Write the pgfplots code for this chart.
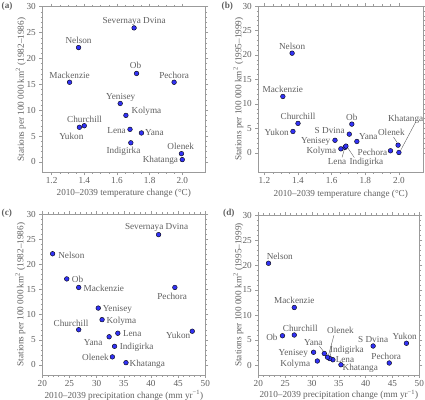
\documentclass[border=0pt]{standalone}
\usepackage{fontspec}
\setmainfont{Liberation Serif}
\usepackage{pgfplots}
\pgfplotsset{compat=1.18}
\definecolor{dotblue}{RGB}{50,50,245}
\definecolor{txtgray}{RGB}{95,95,95}
\definecolor{framegray}{RGB}{155,155,155}
\newcommand{\fs}{\fontsize{9.2bp}{11bp}\selectfont}
\tikzset{lab/.style={font=\fs, text=txtgray, inner sep=0pt},
  leader/.style={draw=txtgray, line width=0.4bp}}
% centre offset label
\newcommand{\lc}[5]{\node[lab,anchor=base,xshift={#3*1bp},yshift={(#4-3)*1bp}] at (axis cs:#1,#2) {#5};}
% right label (gap)
\newcommand{\lr}[5]{\node[lab,anchor=base west,xshift={#3*1bp},yshift={(#4-3)*1bp}] at (axis cs:#1,#2) {#5};}
% left label (gap)
\newcommand{\lL}[5]{\node[lab,anchor=base east,xshift={-#3*1bp},yshift={(#4-3)*1bp}] at (axis cs:#1,#2) {#5};}
\pgfplotsset{panel/.style={
  scale only axis, anchor=south west,
  axis line style={framegray, line width=0.5bp},
  every tick/.style={framegray, line width=0.4bp},
  tick align=outside,
  major tick length=3bp, minor tick length=1.7bp,
  ticklabel style={font=\fs, text=txtgray},
  xticklabel style={yshift=1.2bp},
  label style={font=\fs, text=txtgray},
  /pgf/number format/assume math mode=true,
  ytick={0,5,10,15,20,25,30}, minor y tick num=4,
  clip=false,
},
temp/.style={xtick={1.2,1.4,1.6,1.8,2.0}, xticklabels={1.2,1.4,1.6,1.8,2.0}, minor x tick num=3,
  xlabel={2010–2039 temperature change (°C)}},
prec/.style={xmin=20, xmax=50, xtick={20,25,30,35,40,45,50}, minor x tick num=4,
  xlabel={2010–2039 precipitation change (mm yr\textsuperscript{\char"2212 1})}},
dots/.style={only marks, mark=*, mark size=2.35bp, mark options={draw=none, fill=dotblue}}
}
\begin{document}
\begin{tikzpicture}
\useasboundingbox (0,0) rectangle (425bp,400bp);
% ---------------- (a)
\begin{axis}[panel, temp, at={(42.3bp,227.7bp)}, width=163bp, height=165.6bp,
  xmin=1.143, xmax=2.141, ymin=-2, ymax=30,
  ylabel={Stations per 100 000 km\textsuperscript{2} (1982–1986)},
  xlabel style={at={(axis description cs:0.5,-0.126)}, anchor=center},
  ylabel style={at={(axis description cs:-0.132,0.5)}, anchor=center}]
\addplot[dots] coordinates {
 (1.365,22.1) (1.31,15.4) (1.37,6.7) (1.40,7.0) (1.62,11.3) (1.655,9.0) (1.68,6.3)
 (1.685,3.7) (1.705,25.9) (1.72,17.1) (1.75,5.6) (1.95,15.4) (1.995,1.6) (2.0,0.45)};
\lc{1.705}{25.9}{0}{7.7}{Severnaya Dvina}
\lc{1.365}{22.1}{0}{6.7}{Nelson}
\lc{1.72}{17.1}{-1}{7.5}{Ob}
\lc{1.31}{15.4}{0}{6.7}{Mackenzie}
\lc{1.95}{15.4}{0}{6.7}{Pechora}
\lc{1.62}{11.3}{0.5}{7.3}{Yenisey}
\lr{1.655}{9.0}{5.5}{4.7}{Kolyma}
\lc{1.40}{7.0}{0.3}{6.7}{Churchill}
\lc{1.37}{6.7}{-8}{-9}{Yukon}
\lL{1.68}{6.3}{4}{-0.7}{Lena}
\lr{1.75}{5.6}{3.5}{0.7}{Yana}
\lc{1.685}{3.7}{-7.3}{-7.7}{Indigirka}
\lc{1.995}{1.6}{-0.7}{6.7}{Olenek}
\lL{2.0}{0.45}{4}{-0.3}{Khatanga}
\end{axis}
% ---------------- (b)
\begin{axis}[panel, temp, at={(258.3bp,227.7bp)}, width=165bp, height=166.3bp,
  xmin=1.164, xmax=2.145, ymin=-4, ymax=30,
  ylabel={Stations per 100 000 km\textsuperscript{2} (1995–1999)},
  xlabel style={at={(axis description cs:0.5,-0.132)}, anchor=center},
  ylabel style={at={(axis description cs:-0.121,0.5)}, anchor=center}]
\addplot[dots] coordinates {
 (1.365,20.35) (1.31,11.5) (1.37,4.35) (1.40,6.0) (1.62,2.55) (1.655,0.8) (1.68,1.1)
 (1.685,1.35) (1.705,3.8) (1.72,5.85) (1.75,2.3) (1.95,0.4) (1.995,1.55) (2.0,0.05)};
\lc{1.365}{20.35}{0}{6.3}{Nelson}
\lc{1.31}{11.5}{0}{6.7}{Mackenzie}
\lc{1.40}{6.0}{0}{6.7}{Churchill}
\lL{1.37}{4.35}{4}{-0.7}{Yukon}
\lc{1.72}{5.85}{0}{6.7}{Ob}
\lL{1.705}{3.8}{4.5}{3.8}{S Dvina}
\lL{1.62}{2.55}{4.5}{0}{Yenisey}
\lr{1.75}{2.3}{2}{5}{Yana}
\lL{1.655}{0.8}{4.5}{-2}{Kolyma}
\lL{1.95}{0.4}{3}{-1.5}{Pechora}
\lc{1.632}{-1.85}{0}{0}{Lena}
\lc{1.807}{-1.85}{0}{0}{Indigirka}
\lc{1.955}{4.1}{0}{0}{Olenek}
\lc{2.04}{7.05}{0}{0}{Khatanga}
\draw[leader] (axis cs:1.662,-0.95) -- (axis cs:1.676,0.75);
\draw[leader] (axis cs:1.735,-1.0) -- (axis cs:1.697,0.95);
\draw[leader] (axis cs:1.968,3.2) -- (axis cs:1.988,2.15);
\draw[leader] (axis cs:2.10,6.3) -- (axis cs:2.012,0.6);
\end{axis}
% ---------------- (c)
\begin{axis}[panel, prec, at={(42.3bp,25bp)}, width=163bp, height=161bp,
  ymin=-2, ymax=30,
  ylabel={Stations per 100 000 km\textsuperscript{2} (1982–1986)},
  xlabel style={at={(axis description cs:0.5,-0.127)}, anchor=center},
  ylabel style={at={(axis description cs:-0.135,0.5)}, anchor=center}]
\addplot[dots] coordinates {
 (21.9,22.1) (26.7,15.4) (47.6,6.7) (26.7,7.0) (30.3,11.3) (31.0,9.0) (33.9,6.3)
 (33.3,3.7) (41.4,25.9) (24.5,17.1) (32.3,5.6) (44.4,15.4) (32.9,1.6) (35.4,0.45)};
\lc{41.4}{25.9}{-2}{7.7}{Severnaya Dvina}
\lr{21.9}{22.1}{5.5}{-1.3}{Nelson}
\lr{24.5}{17.1}{5}{-1}{Ob}
\lr{26.7}{15.4}{4.8}{-1.3}{Mackenzie}
\lc{44.4}{15.4}{-2.7}{-9.3}{Pechora}
\lr{30.3}{11.3}{4.3}{-0.3}{Yenisey}
\lr{31.0}{9.0}{4.3}{-0.7}{Kolyma}
\lc{26.7}{7.0}{-7.7}{6}{Churchill}
\lr{33.9}{6.3}{5}{-0.7}{Lena}
\lc{32.3}{5.6}{-16}{-5.7}{Yana}
\lr{33.3}{3.7}{5}{0}{Indigirka}
\lL{32.9}{1.6}{3.5}{-0.7}{Olenek}
\lr{35.4}{0.45}{3.5}{-0.7}{Khatanga}
\lc{47.6}{6.7}{-14}{-4.7}{Yukon}
\end{axis}
% ---------------- (d)
\begin{axis}[panel, prec, at={(258.3bp,25bp)}, width=161bp, height=160bp,
  ymin=-2, ymax=30,
  ylabel={Stations per 100 000 km\textsuperscript{2} (1995–1999)},
  xlabel style={at={(axis description cs:0.5,-0.124)}, anchor=center},
  ylabel style={at={(axis description cs:-0.124,0.5)}, anchor=center}]
\addplot[dots] coordinates {
 (21.9,20.35) (26.7,11.5) (47.6,4.35) (26.7,6.0) (30.3,2.55) (31.0,0.8) (33.9,1.05)
 (33.3,1.3) (41.4,3.8) (24.5,5.85) (32.3,2.3) (44.4,0.4) (32.9,1.55) (35.4,0.05)};
\lc{21.9}{20.35}{11.3}{6.7}{Nelson}
\lc{26.7}{11.5}{0}{7}{Mackenzie}
\lL{24.5}{5.85}{4.7}{-1.3}{Ob}
\lc{26.7}{6.0}{6}{7}{Churchill}
\lc{47.6}{4.35}{-1.7}{6.7}{Yukon}
\lc{41.4}{3.8}{0}{6.7}{S Dvina}
\lL{30.3}{2.55}{5.5}{-0.3}{Yenisey}
\lc{30.25}{4.5}{0}{0}{Yana}
\draw[leader] (axis cs:31.42,3.74) -- (axis cs:32.1,2.8);
\lc{35.3}{6.85}{0}{0}{Olenek}
\draw[leader] (axis cs:34.1,5.95) -- (axis cs:33.1,2.05);
\lc{36.5}{3.05}{0}{0}{Indigirka}
\draw[leader] (axis cs:33.65,3.9) -- (axis cs:33.45,1.75);
\lc{36.15}{1.1}{0}{0}{Lena}
\lL{31.0}{0.8}{7}{-2.3}{Kolyma}
\lr{35.4}{0.05}{1.5}{-2.7}{Khatanga}
\lc{44.4}{0.4}{-3}{6.7}{Pechora}
\end{axis}
% panel letters
\node[font=\fs\bfseries, text=txtgray, anchor=west, inner sep=0pt] at (1.5bp,394bp) {(a)};
\node[font=\fs\bfseries, text=txtgray, anchor=west, inner sep=0pt] at (221.5bp,394bp) {(b)};
\node[font=\fs\bfseries, text=txtgray, anchor=west, inner sep=0pt] at (1.5bp,186.7bp) {(c)};
\node[font=\fs\bfseries, text=txtgray, anchor=west, inner sep=0pt] at (223bp,186.7bp) {(d)};
\end{tikzpicture}
\end{document}
